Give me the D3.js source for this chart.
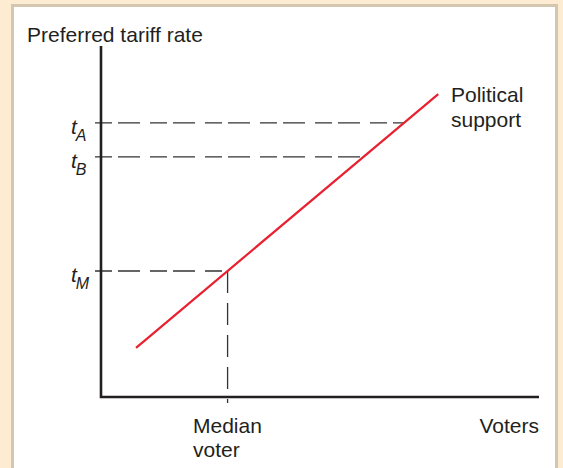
<!DOCTYPE html>
<html>
<head>
<meta charset="utf-8">
<script src="https://cdn.jsdelivr.net/npm/d3@7"></script>
<style>
  body { margin: 0; background: #fdecd2; }
  svg { display: block; font-family: "Liberation Sans", Arial, sans-serif; }
</style>
</head>
<body>
<div id="chart"></div>
<script>
// political support line, in arbitrary units (voters 0-100, rate 0-100)
var supportVoters = [8, 77];
var supportRates = [14, 86.3];

// preferred tariff rates marked on the vertical axis
var rateNames = ["A", "B", "M"];
var rateValues = [78.1, 68.4, 35.9];

var width = 563, height = 468;
var margin = {top: 46, right: 24, bottom: 71, left: 101};

var svg = d3.select("#chart").append("svg")
    .attr("width", width)
    .attr("height", height);

// white panel with thin border
svg.append("rect")
    .attr("x", 12.5).attr("y", 5.5)
    .attr("width", 544).attr("height", 470)
    .attr("fill", "#fff")
    .attr("stroke", "#d5c6af")
    .attr("stroke-width", 3);

var x = d3.scaleLinear().domain([0, 100]).range([margin.left, width - margin.right]);
var y = d3.scaleLinear().domain([0, 100]).range([height - margin.bottom, margin.top]);

// voters value where the support line reaches a given rate
function votersAt(rate) {
    var t = (rate - supportRates[0]) / (supportRates[1] - supportRates[0]);
    return supportVoters[0] + t * (supportVoters[1] - supportVoters[0]);
}

var dash = "22,10";
var medianIndex = rateNames.indexOf("M");
var medianVoter = votersAt(rateValues[medianIndex]);

// horizontal dashed guides
svg.selectAll(".guide")
    .data(rateValues)
    .enter().append("line")
    .attr("class", "guide")
    .attr("x1", x(0) - 6)
    .attr("x2", function(d) { return x(votersAt(d)); })
    .attr("y1", function(d) { return y(d); })
    .attr("y2", function(d) { return y(d); })
    .attr("stroke", "#333")
    .attr("stroke-width", 1.3)
    .attr("stroke-dasharray", "17,6,22,10");

// vertical dashed guide at median voter
svg.append("line")
    .attr("x1", x(medianVoter)).attr("x2", x(medianVoter))
    .attr("y1", y(rateValues[medianIndex]))
    .attr("y2", y(0) + 6)
    .attr("stroke", "#333")
    .attr("stroke-width", 1.3)
    .attr("stroke-dasharray", dash);

// axes
svg.append("path")
    .attr("d", d3.line()([[x(0), y(100)], [x(0), y(0)], [x(100), y(0)]]))
    .attr("fill", "none")
    .attr("stroke", "#231f20")
    .attr("stroke-width", 2.6);

// political support line
svg.append("line")
    .attr("x1", x(supportVoters[0])).attr("y1", y(supportRates[0]))
    .attr("x2", x(supportVoters[1])).attr("y2", y(supportRates[1]))
    .attr("stroke", "#e8202f")
    .attr("stroke-width", 2.2);

// rate labels
var labels = svg.selectAll(".rlabel")
    .data(rateValues)
    .enter().append("text")
    .attr("class", "rlabel")
    .attr("fill", "#231f20")
    .attr("font-style", "italic")
    .attr("font-size", 21)
    .attr("x", 71)
    .attr("y", function(d) { return y(d) + 11; });
labels.append("tspan").text("t");
labels.append("tspan")
    .attr("font-size", 16)
    .attr("dx", -1)
    .attr("dy", 7)
    .text(function(d, i) { return rateNames[i]; });

function label(txt, lx, ly, anchor) {
    svg.append("text")
        .attr("x", lx).attr("y", ly)
        .attr("fill", "#231f20")
        .attr("font-size", 21)
        .attr("text-anchor", anchor || "start")
        .text(txt);
}

label("Preferred tariff rate", 27, 42);
label("Political", 451, 102);
label("support", 451, 127);
label("Voters", 539, 433, "end");
label("Median", 193, 433);
label("voter", 193, 457);
</script>
</body>
</html>
